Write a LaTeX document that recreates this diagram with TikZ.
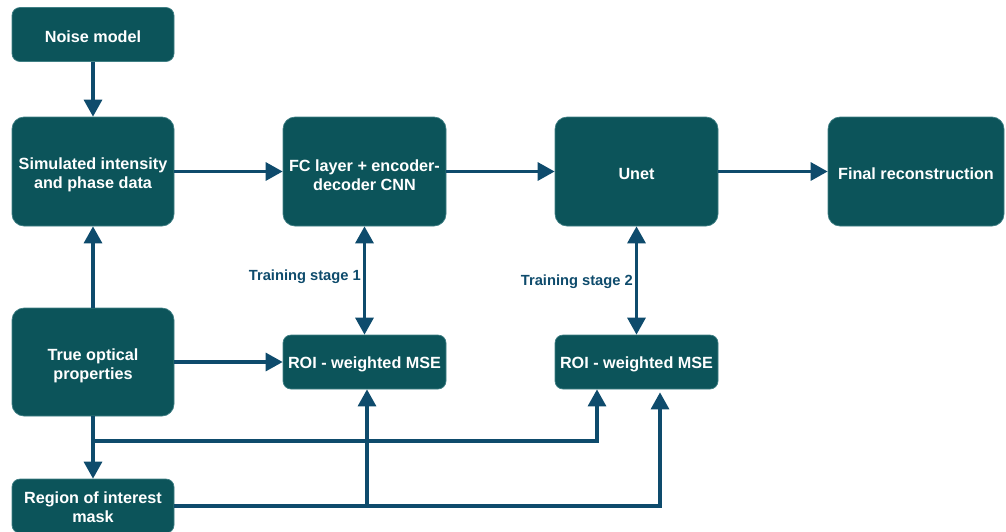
\documentclass[tikz,border=0pt]{standalone}
\usepackage{fontspec}
\setmainfont{Liberation Sans}
\usetikzlibrary{arrows.meta}

\definecolor{boxfill}{HTML}{0C545A}
\definecolor{boxedge}{HTML}{3F7F84}
\definecolor{flow}{HTML}{0E4B6C}

% invisible strut that lowers the text block inside a box
\newcommand\toplift[1]{\rule{0pt}{#1}}

\tikzset{
  bigbox/.style={draw=boxedge, line width=0.7pt, fill=boxfill, rounded corners=12pt,
    text=white, font=\fontsize{16.2}{18.6}\selectfont\bfseries, align=center,
    inner sep=0pt, minimum width=162pt, minimum height=109pt,
    execute at begin node={\toplift{15.6pt}}},
  smallbox/.style={bigbox, rounded corners=8pt, minimum height=54pt},
  arr/.style={draw=flow, line width=3.2pt,
    -{Triangle[width=18pt,length=17pt]}},
  biarr/.style={draw=flow, line width=3.2pt,
    {Triangle[width=18pt,length=17pt]}-{Triangle[width=18pt,length=17pt]}},
  link/.style={draw=flow, line width=3.2pt},
  stagelabel/.style={text=flow, font=\fontsize{14.7}{17}\selectfont\bfseries,
    inner sep=1pt, anchor=east}
}

\begin{document}
\begin{tikzpicture}[x=1pt, y=-1pt]
  \useasboundingbox (0,0) rectangle (1006,531);

  % process boxes
  \node[smallbox] (noise) at (93,34.5) {Noise model};
  \node[bigbox] (sim) at (93,171.5) {\toplift{18.6pt}Simulated intensity\\and phase data};
  \node[bigbox, minimum width=163pt] (fc) at (364.5,171.5) {\toplift{18.6pt}FC layer + encoder-\\decoder CNN};
  \node[bigbox, minimum width=163pt] (unet) at (636.5,171.5) {Unet};
  \node[bigbox, minimum width=176pt] (final) at (916,171.5) {Final reconstruction};
  \node[bigbox, minimum height=108pt] (true) at (93,362) {\toplift{19.6pt}True optical\\properties};
  \node[smallbox, minimum width=163pt] (roi1) at (364.5,362) {ROI - weighted MSE};
  \node[smallbox, minimum width=163pt] (roi2) at (636.5,362) {ROI - weighted MSE};
  \node[smallbox] (mask) at (93,506) {\toplift{14.6pt}Region of interest\\mask};

  % main data flow
  \draw[arr] (noise.south) -- (sim.north);
  \draw[arr] (sim.east) -- (fc.west);
  \draw[arr] (fc.east) -- (unet.west);
  \draw[arr] (unet.east) -- (final.west);
  \draw[arr] (true.north) -- (sim.south);
  \draw[arr] (true.east) -- (roi1.west);

  % training losses
  \draw[biarr] (fc.south) -- (roi1.north);
  \draw[biarr] (unet.south) -- (roi2.north);
  \node[stagelabel] (stage1) at (362,277) {Training stage 1};
  \node[stagelabel] (stage2) at (634,282) {Training stage 2};

  % ground truth and mask feeding the losses
  \coordinate (split) at (93,441);
  \coordinate (join) at (367,506);
  \draw[arr] (true.south) -- (mask.north);
  \draw[arr] (split) -| ([xshift=-39.5pt]roi2.south);
  \draw[link] (mask.east) -- (join);
  \draw[arr] (join) -- ([xshift=2.5pt]roi1.south);
  \draw[arr, shorten >=3pt] (join) -| ([xshift=23.5pt]roi2.south);
\end{tikzpicture}
\end{document}
